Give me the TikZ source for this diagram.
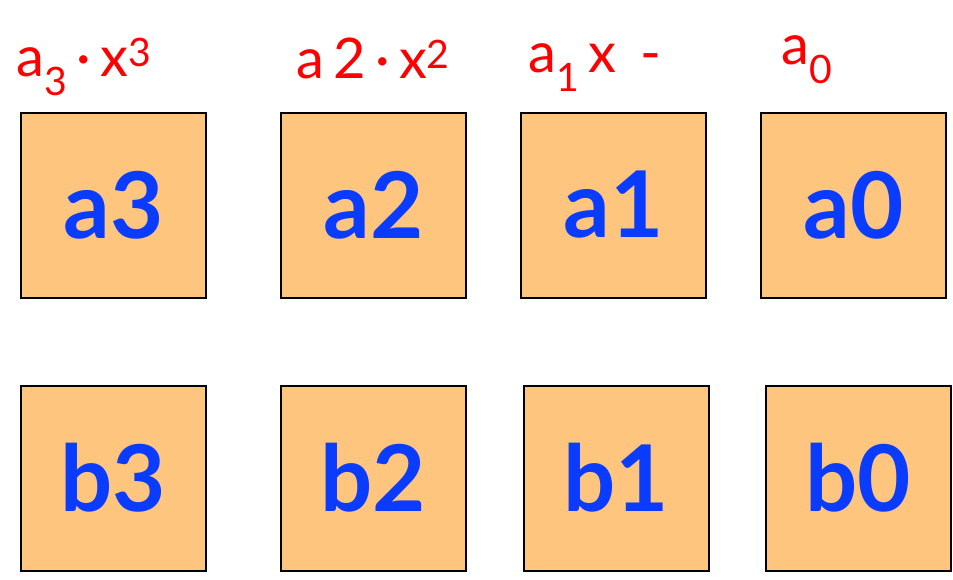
\documentclass[tikz,border=0pt]{standalone}
\usepackage{fontspec}
\setmainfont{Lato}
\usepackage{tikz}
\usetikzlibrary{positioning}
\definecolor{cellfill}{HTML}{FDC57D}
\definecolor{cellblue}{HTML}{0A3CFF}
\definecolor{inkred}{HTML}{FF0000}

\begin{document}
\begin{tikzpicture}[x=1pt,y=-1pt,
  cell/.style={rectangle, draw=black, line width=2pt, fill=cellfill, minimum size=185pt, inner sep=0pt,
    text=cellblue, font=\bfseries\fontsize{92}{92}\selectfont},
  ink/.style={text=inkred, font=\fontsize{56}{56}\selectfont, inner sep=0pt, anchor=base west}]
\useasboundingbox (0,0) rectangle (953,579);
% top row
\node[cell] (a3) at (113.5,205) {a3};
\node[cell, right=73pt of a3] (a2) {a2};
\node[cell, right=53pt of a2] (a1) {a1};
\node[cell, right=53pt of a1] (a0) {a0};
% bottom row
\node[cell, below=86pt of a3] (b3) {b3};
\node[cell, right=73pt of b3] (b2) {b2};
\node[cell, right=56pt of b2] (b1) {b1};
\node[cell, right=55pt of b1] (b0) {b0};
% scribbles
\node[ink] (na3) at (16,76) {a\textsubscript{3}\,·\,x\textsuperscript{3}};
\node[ink] (na2) at (296,78) {a\,2\,·\,x\textsuperscript{2}};
\node[ink] (na1) at (528,72) {a\textsubscript{1}\,x\, -};
\node[ink] (na0) at (781,64) {a\textsubscript{0}};
\end{tikzpicture}
\end{document}
